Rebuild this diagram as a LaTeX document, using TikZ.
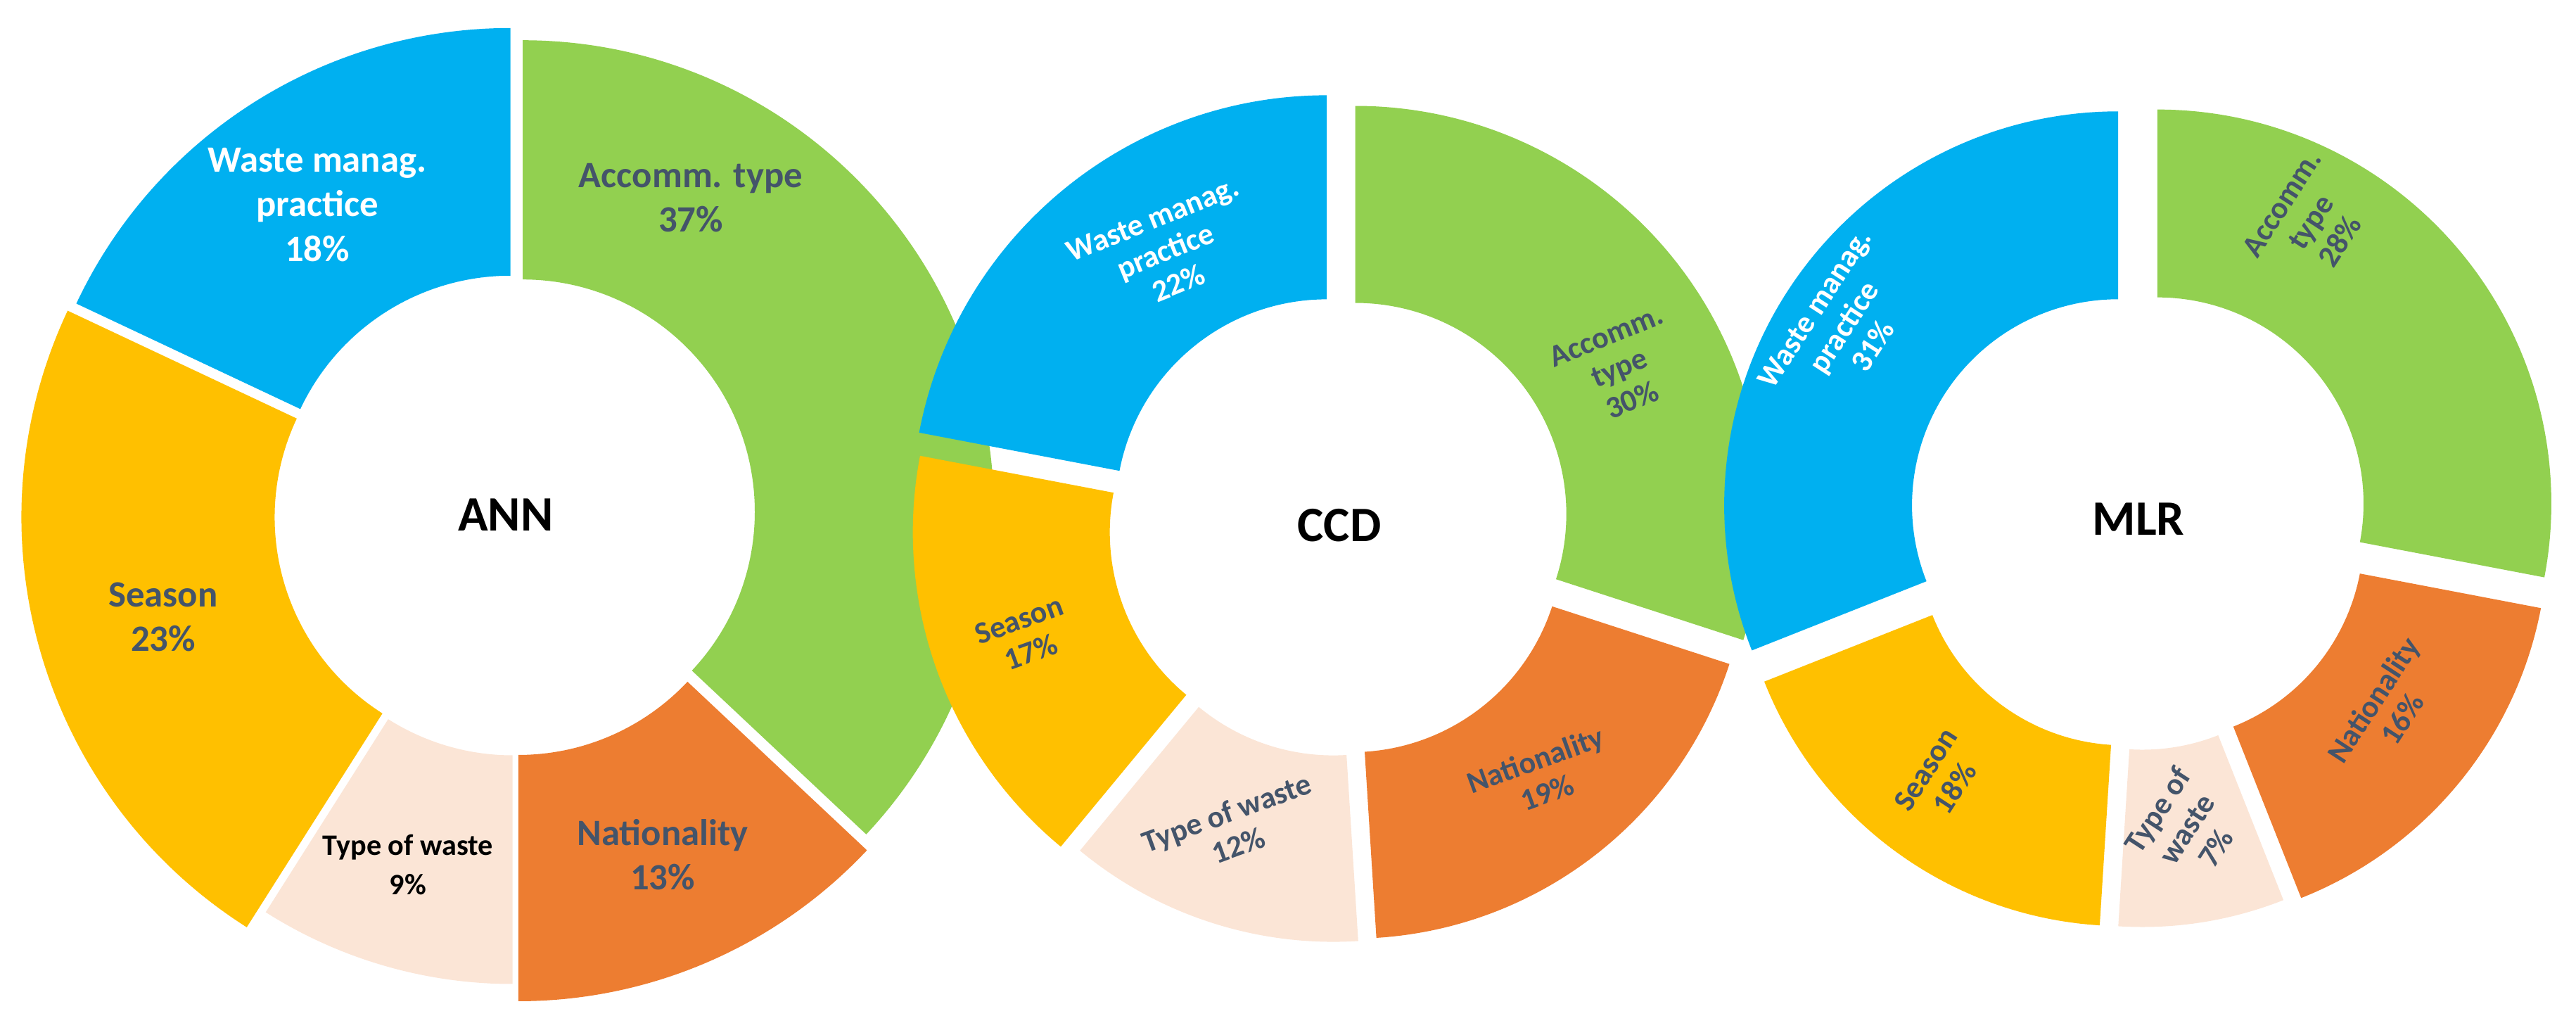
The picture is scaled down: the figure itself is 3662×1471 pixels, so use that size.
\documentclass[tikz,border=0pt]{standalone}
\usepackage{fontspec}
\setmainfont{Carlito}
\begin{document}
\definecolor{cblue}{HTML}{00B0F0}
\definecolor{cgreen}{HTML}{92D050}
\definecolor{corange}{HTML}{ED7D31}
\definecolor{cyellow}{HTML}{FFC000}
\definecolor{cpeach}{HTML}{FBE5D6}
\definecolor{ctext}{HTML}{44546A}
\newcommand\seg[8]{%
 \begin{scope}[shift={(#1,#2)},shift={({(#3+#4)/2}:#7)}]
 \fill[#8] (#3:#5) -- (#3:#6) arc[start angle=#3,end angle=#4,radius=#6] -- (#4:#5) arc[start angle=#4,end angle=#3,radius=#5] -- cycle;
 \end{scope}}
\begin{tikzpicture}[x=0.01cm,y=0.01cm,
 lab/.style={align=center,font=\bfseries\fontsize{15pt}{18pt}\selectfont,text=ctext},
 slab/.style={align=center,font=\bfseries\fontsize{12.5pt}{14pt}\selectfont,text=ctext},
 ttl/.style={font=\bfseries\fontsize{20pt}{24pt}\selectfont,text=black}]
\useasboundingbox (0,0) rectangle (3662,1471);
% ANN
\seg{732}{739}{90}{-43.2}{330}{670}{12}{cgreen}
\seg{732}{739}{-43.2}{-90}{330}{680}{12}{corange}
\seg{732}{739}{-90}{-122.4}{330}{655}{12}{cpeach}
\seg{732}{739}{-122.4}{-205.2}{330}{690}{12}{cyellow}
\seg{732}{739}{-205.2}{-270}{330}{682}{12}{cblue}
% CCD
\seg{1904}{724}{90}{-18}{300}{580}{28}{cgreen}
\seg{1904}{724}{-18}{-86.4}{300}{565}{28}{corange}
\seg{1904}{724}{-86.4}{-129.6}{300}{565}{28}{cpeach}
\seg{1904}{724}{-129.6}{-190.8}{300}{580}{28}{cyellow}
\seg{1904}{724}{-190.8}{-270}{300}{590}{28}{cblue}
% MLR
\seg{3040}{733}{90}{-10.8}{293}{560}{35}{cgreen}
\seg{3040}{733}{-10.8}{-68.4}{293}{555}{35}{corange}
\seg{3040}{733}{-68.4}{-93.6}{293}{545}{35}{cpeach}
\seg{3040}{733}{-93.6}{-158.4}{293}{550}{35}{cyellow}
\seg{3040}{733}{-158.4}{-270}{293}{560}{35}{cblue}
% ANN labels
\node[ttl] (tann) at (719,739) {ANN};
\node[lab,text=white] (a1) at (451,1180) {Waste manag.\\practice\\18\%};
\node[lab] (a2) at (982,1190) {Accomm. type\\37\%};
\node[lab] (a3) at (232,594) {Season\\23\%};
\node[lab,text=black,font=\bfseries\fontsize{12pt}{16pt}\selectfont] (a4) at (580,242) {Type of waste\\9\%};
\node[lab] (a5) at (942,256) {Nationality\\13\%};
% CCD labels
\node[ttl] (tccd) at (1904,724) {CCD};
\node[slab,text=white,rotate=22] (c1) at (1657,1114) {Waste manag.\\practice\\22\%};
\node[slab,rotate=22] (c2) at (2302,948) {Accomm.\\type\\30\%};
\node[slab,rotate=20] (c3) at (1457,567) {Season\\17\%};
\node[slab,rotate=20] (c4) at (1752,293) {Type of waste\\12\%};
\node[slab,rotate=20] (c5) at (2191,368) {Nationality\\19\%};
% MLR labels
\node[ttl] (tmlr) at (3040,733) {MLR};
\node[slab,text=white,rotate=57] (m1) at (2621,1006) {Waste manag.\\practice\\31\%};
\node[slab,rotate=57] (m2) at (3285,1155) {Accomm.\\type\\28\%};
\node[slab,rotate=57] (m3) at (2758,364) {Season\\18\%};
\node[slab,rotate=57] (m4) at (3108,293) {Type of\\waste\\7\%};
\node[slab,rotate=57] (m5) at (3394,463) {Nationality\\16\%};
\end{tikzpicture}
\end{document}
